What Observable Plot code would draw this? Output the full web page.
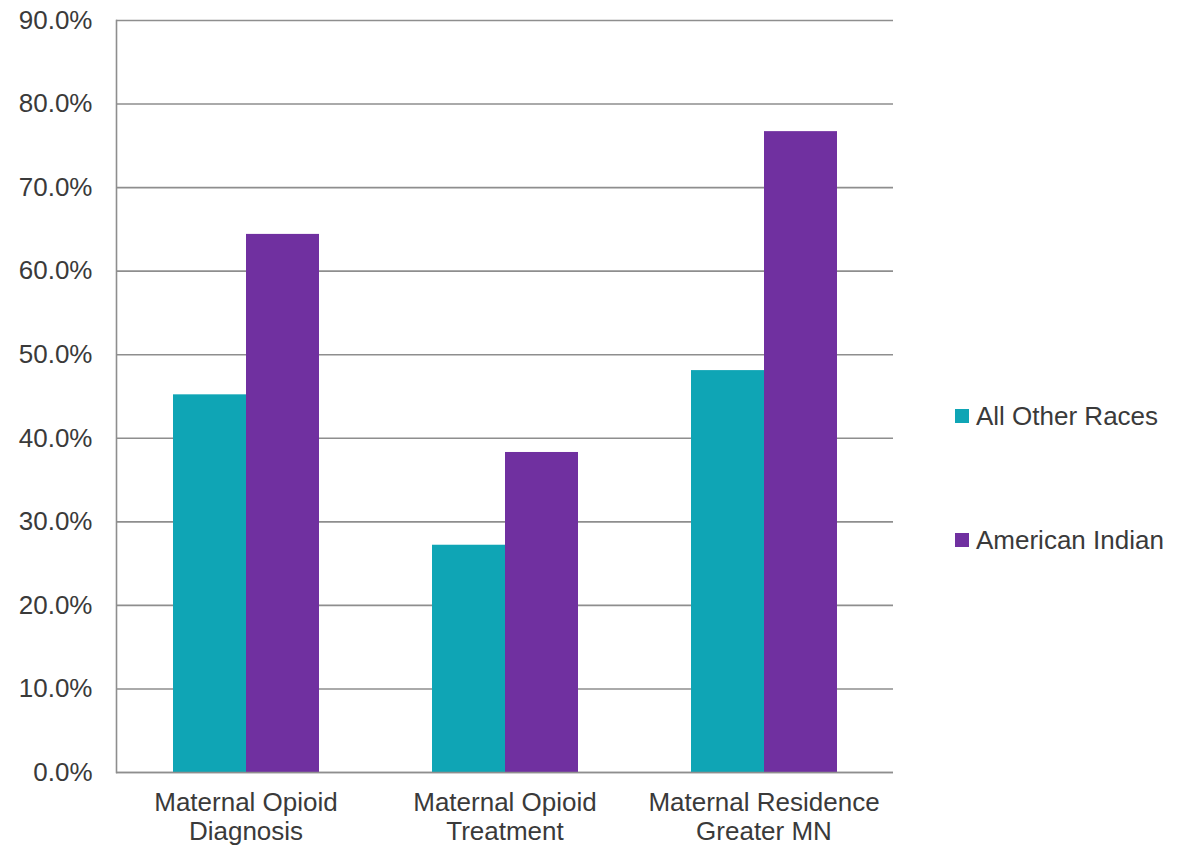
<!DOCTYPE html>
<html>
<head>
<meta charset="utf-8">
<script src="https://cdn.jsdelivr.net/npm/d3@7"></script>
<script src="https://cdn.jsdelivr.net/npm/@observablehq/plot@0.6"></script>
<style>
  body { margin: 0; background: #fff; font-family: "Liberation Sans", Arial, sans-serif; }
  #wrap { position: relative; width: 1181px; height: 848px; overflow: hidden; }
  #chart { position: absolute; left: 0; top: 0; }
  .item { position: absolute; left: 955px; display: flex; align-items: center; white-space: nowrap;
          font-size: 26px; color: #3a3a3a; line-height: 1; }
  .sw { width: 14px; height: 14px; margin-right: 7px; flex: none; }
</style>
</head>
<body>
<div id="wrap">
  <div id="chart"></div>
</div>
<script>
const categories = ["Maternal Opioid Diagnosis", "Maternal Opioid Treatment", "Maternal Residence Greater MN"];
const categoryLabels = ["Maternal Opioid\nDiagnosis", "Maternal Opioid\nTreatment", "Maternal Residence\nGreater MN"];
const series = ["All Other Races", "American Indian"];
const allOtherRaces = [45.2, 27.2, 48.1];
const americanIndian = [64.4, 38.3, 76.7];
const yTicks = [0, 10, 20, 30, 40, 50, 60, 70, 80, 90];
const colors = ["#0FA5B5", "#7030A0"];

const values = [allOtherRaces, americanIndian];
const data = [];
categories.forEach((c, i) => series.forEach((s, j) => data.push({category: c, series: s, value: values[j][i]})));

const textColor = "#3a3a3a";
const gridColor = "#8e8e8e";

const chart = Plot.plot({
  width: 940,
  height: 848,
  marginLeft: 116,
  marginRight: 47,
  marginTop: 20,
  marginBottom: 76,
  style: { fontFamily: "'Liberation Sans', Arial, sans-serif", fontSize: "26px", color: textColor, background: "#fff" },
  fx: { domain: categories, padding: 0, label: null },
  x: { domain: series, paddingInner: 0, paddingOuter: 0.77, axis: null },
  y: { domain: [0, 90], label: null },
  color: { domain: series, range: colors },
  marks: [
    Plot.gridY(yTicks, { stroke: gridColor, strokeOpacity: 1, strokeWidth: 1.6 }),
    Plot.barY(data, { fx: "category", x: "series", y: "value", fill: "series" }),
    Plot.ruleY([0], { stroke: gridColor, strokeWidth: 1.6 }),
    Plot.frame({ anchor: "left", facetAnchor: "left", stroke: gridColor, strokeWidth: 1.6 }),
    Plot.axisY(yTicks, { tickSize: 0, tickPadding: 24, tickFormat: d => d.toFixed(1) + "%", label: null, fontSize: 26, fill: textColor }),
    Plot.axisFx({ anchor: "bottom", tickSize: 0, tickPadding: 18, lineHeight: 1.12, label: null,
                  tickFormat: d => categoryLabels[categories.indexOf(d)], fontSize: 26, fill: textColor })
  ]
});
document.getElementById("chart").appendChild(chart);

const wrap = document.getElementById("wrap");
const legendY = [416, 540];
series.forEach((s, i) => {
  const item = document.createElement("div");
  item.className = "item";
  item.style.top = (legendY[i] - 13) + "px";
  item.style.height = "26px";
  const sw = document.createElement("span");
  sw.className = "sw";
  sw.style.background = colors[i];
  const t = document.createElement("span");
  t.textContent = s;
  item.appendChild(sw);
  item.appendChild(t);
  wrap.appendChild(item);
});
</script>
</body>
</html>
